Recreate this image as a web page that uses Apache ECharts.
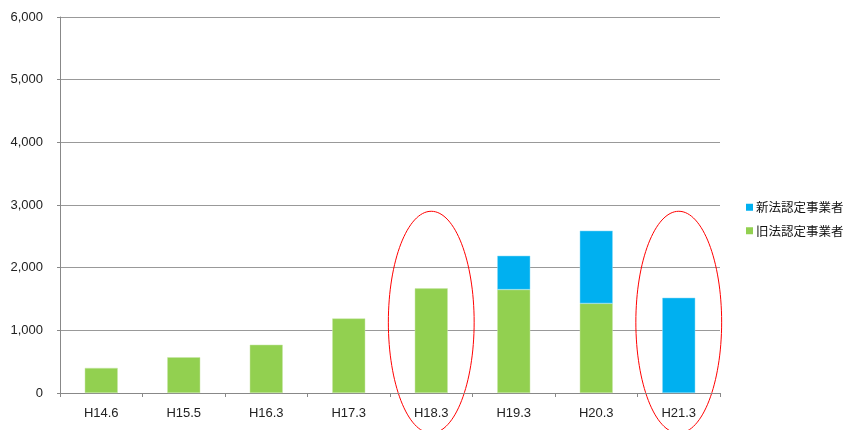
<!DOCTYPE html>
<html><head><meta charset="utf-8">
<script src="https://cdn.jsdelivr.net/npm/echarts@6/dist/echarts.min.js"></script>
<style>html,body{margin:0;padding:0;background:#fff}#c{width:849px;height:430px}</style>
</head><body><div id="c"></div>
<script>
const categories = ['H14.6','H15.5','H16.3','H17.3','H18.3','H19.3','H20.3','H21.3'];
const oldLaw = [400, 570, 770, 1190, 1670, 1650, 1430, null];   // 旧法認定事業者
const newLaw = [null, null, null, null, null, 540, 1160, 1520];   // 新法認定事業者
const yTicks = [0, 1000, 2000, 3000, 4000, 5000, 6000];
const circled = ['H18.3', 'H21.3'];
const circleRange = [-640, 2900];

const chart = echarts.init(document.getElementById('c'));
const font = 'Liberation Sans, Arial, sans-serif';
chart.setOption({
  animation: false,
  grid: {left: 60, right: 129, top: 17, bottom: 37},
  legend: {
    orient: 'vertical', left: 741, top: 196, itemWidth: 7, itemHeight: 7, itemGap: 11,
    icon: 'rect',
    itemStyle: {borderWidth: 0},
    textStyle: {fontFamily: 'Noto Sans CJK JP', fontSize: 12.5, color: '#111', padding: [0,0,0,-2]},
    data: ['新法認定事業者', '旧法認定事業者']
  },
  xAxis: {
    type: 'category', data: categories,
    axisLine: {lineStyle: {color: '#888', width: 1}},
    axisTick: {show: true, length: 4, lineStyle: {color: '#888'}},
    axisLabel: {fontFamily: font, fontSize: 13, color: '#222', margin: 14}
  },
  yAxis: {
    type: 'value', min: yTicks[0], max: yTicks[yTicks.length-1], interval: 1000,
    axisLine: {show: true, lineStyle: {color: '#888'}},
    axisTick: {show: true, length: 3, lineStyle: {color: '#888'}},
    splitLine: {lineStyle: {color: '#999', width: 1}},
    axisLabel: {fontFamily: font, fontSize: 13, color: '#222', margin: 17,
      formatter: v => v.toLocaleString('en-US')}
  },
  series: [
    {name: '旧法認定事業者', type: 'bar', stack: 's', data: oldLaw, barWidth: 33,
     itemStyle: {color: '#92D050', borderColor: '#c8e6a8', borderWidth: 0.5}},
    {name: '新法認定事業者', type: 'bar', stack: 's', data: newLaw, barWidth: 33,
     itemStyle: {color: '#00B0F0', borderColor: '#8fdcf7', borderWidth: 0.5}}
  ]
});

const bandW = chart.convertToPixel({xAxisIndex: 0}, categories[1]) - chart.convertToPixel({xAxisIndex: 0}, categories[0]);
const yTop = chart.convertToPixel({yAxisIndex: 0}, circleRange[1]);
const yBot = chart.convertToPixel({yAxisIndex: 0}, circleRange[0]);
chart.setOption({
  graphic: circled.map(c => ({
    type: 'ellipse',
    shape: {cx: chart.convertToPixel({xAxisIndex: 0}, c), cy: (yTop + yBot) / 2, rx: bandW * 0.52, ry: (yBot - yTop) / 2},
    style: {fill: 'none', stroke: '#ff0000', lineWidth: 1},
    silent: true
  }))
});
</script></body></html>
